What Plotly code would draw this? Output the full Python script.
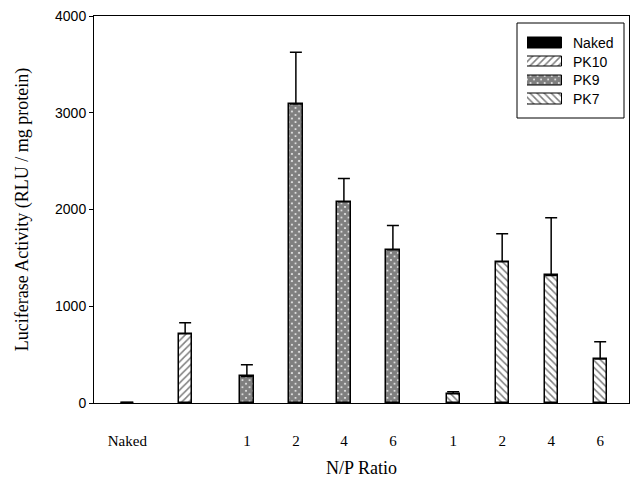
import plotly.graph_objects as go

# ---- data ----
series = ["Naked", "PK10", "PK9", "PK7"]
naked_vals = [5]
naked_err = [0]
pk10_vals = [715]
pk10_err = [115]
pk9_vals = [275, 3090, 2080, 1585]
pk9_err = [120, 535, 240, 250]
pk7_vals = [95, 1460, 1318, 456]
pk7_err = [20, 290, 598, 178]
tick_labels = ["Naked", "", "1", "2", "4", "6", "1", "2", "4", "6"]
y_ticks = [0, 1000, 2000, 3000, 4000]

# ---- layout positions (slot units) ----
x_naked = [0.68]
x_pk10 = [1.86]
x_pk9 = [3.12, 4.12, 5.10, 6.10]
x_pk7 = [7.33, 8.33, 9.33, 10.33]
x_all = x_naked + x_pk10 + x_pk9 + x_pk7
BW = 0.27

W, H = 633, 483
L, R, T, B = 94, 629, 16, 403


def px_x(p):
    return (p - L) / (R - L)


def px_y(p):
    return (B - p) / (B - T)


patterns = {
    "Naked": dict(shape="", fgcolor="black", bgcolor="black"),
    "PK10": dict(shape="/", size=5, solidity=0.3, fgcolor="black", bgcolor="white"),
    "PK9": dict(shape="x", size=5, solidity=0.9, fgcolor="black", bgcolor="white"),
    "PK7": dict(shape="\\", size=5, solidity=0.3, fgcolor="black", bgcolor="white"),
}

fig = go.Figure()


def add_bars(name, xs, ys, errs):
    fig.add_trace(go.Bar(
        x=xs, y=ys, width=BW, name=name, showlegend=False,
        marker=dict(color="black" if name == "Naked" else "white",
                    line=dict(color="black", width=1.5),
                    pattern=patterns[name]),
        error_y=dict(type="data", symmetric=False, array=errs,
                     arrayminus=[0] * len(errs), color="black",
                     thickness=1.5, width=6, visible=True),
    ))


add_bars("Naked", x_naked, naked_vals, naked_err)
add_bars("PK10", x_pk10, pk10_vals, pk10_err)
add_bars("PK9", x_pk9, pk9_vals, pk9_err)
add_bars("PK7", x_pk7, pk7_vals, pk7_err)

# custom legend swatches on an auxiliary subplot
for i, s in enumerate(series):
    fig.add_trace(go.Bar(
        x=[1], y=[i], orientation="h", width=0.55, showlegend=False,
        xaxis="x2", yaxis="y2", hoverinfo="skip",
        marker=dict(color="black" if s == "Naked" else "white",
                    line=dict(color="black", width=1),
                    pattern=patterns[s]),
    ))

serif = "Liberation Serif, Times New Roman, serif"
sans = "Liberation Sans, Arial, sans-serif"

fig.update_layout(
    width=W, height=H,
    margin=dict(l=L, r=W - R, t=T, b=H - B, autoexpand=False),
    paper_bgcolor="white", plot_bgcolor="white",
    showlegend=False,
    bargap=0,
    xaxis=dict(
        range=[0, (R - L) / 49.0], tickmode="array", tickvals=x_all,
        ticktext=tick_labels, ticks="", showgrid=False, zeroline=False,
        showline=True, linecolor="black", linewidth=1, mirror=True,
        tickfont=dict(family=serif, size=15, color="black"),
        ticklabelstandoff=24, automargin=False,
        title=dict(text="N/P Ratio", font=dict(family=serif, size=18, color="black"),
                   standoff=13),
    ),
    yaxis=dict(
        range=[0, 4000], tickmode="array", tickvals=y_ticks,
        ticks="outside", ticklen=4, tickcolor="black",
        showgrid=False, zeroline=False, automargin=False,
        showline=True, linecolor="black", linewidth=1, mirror=True,
        tickfont=dict(family=sans, size=14, color="black"),
        title=dict(text="Luciferase Activity (RLU / mg protein)",
                   font=dict(family=serif, size=18, color="black"), standoff=21),
    ),
    xaxis2=dict(domain=[px_x(527), px_x(562)], range=[0, 1], visible=False,
                anchor="y2", fixedrange=True),
    yaxis2=dict(domain=[px_y(108.5), px_y(33.5)], range=[3.5, -0.5], visible=False,
                anchor="x2", fixedrange=True),
    shapes=[dict(type="rect", xref="paper", yref="paper",
                 x0=px_x(517), x1=px_x(624), y0=px_y(118), y1=px_y(23),
                 line=dict(color="black", width=1), fillcolor="rgba(0,0,0,0)",
                 layer="below")],
    annotations=[dict(text=s, xref="paper", yref="paper", x=px_x(571),
                      y=px_y(43 + i * 18.7), xanchor="left", yanchor="middle",
                      showarrow=False, font=dict(family=sans, size=14, color="black"))
                 for i, s in enumerate(series)],
)

fig.write_html("out.html", config={"displayModeBar": False},
               post_script="document.body.style.margin='0';document.body.style.overflow='hidden';")
